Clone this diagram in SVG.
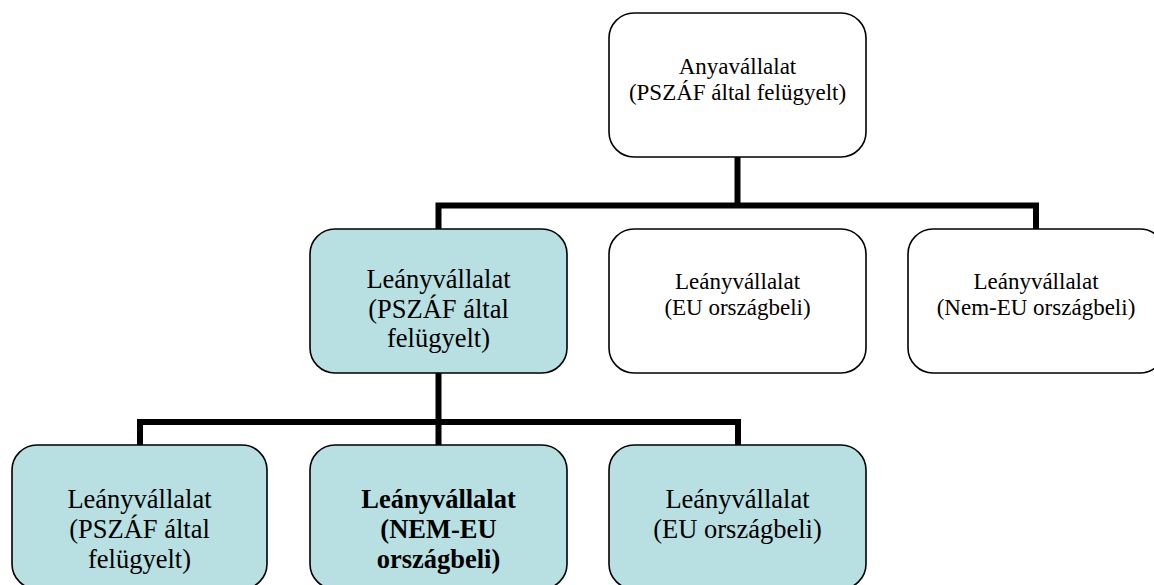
<svg xmlns="http://www.w3.org/2000/svg" width="1154" height="585" viewBox="0 0 1154 585">
<style>
.box{stroke:#000;stroke-width:1.6}
.w{fill:#fff}
.b{fill:#B8DFE2}
.conn{fill:none;stroke:#000;stroke-width:6;stroke-linejoin:miter;stroke-linecap:butt}
text{font-family:"Liberation Serif","Times New Roman",serif;fill:#000;text-anchor:middle}
.s{font-size:23px}
.l{font-size:26.5px}
.bold{font-weight:bold}
</style>
<rect width="1154" height="585" fill="#fff"/>
<g id="connectors">
<path class="conn" d="M737.5 157 V205.5"/>
<path class="conn" d="M438.5 229 V205.5 H1036 V229"/>
<path class="conn" d="M438.5 373 V422"/>
<path class="conn" d="M140 445 V422 H738 V445"/>
<path class="conn" d="M438.5 422 V445"/>
</g>
<g id="parent">
<rect class="box w" x="609" y="13" width="257" height="144" rx="25"/>
<text class="s" x="737.5" y="74">Anyavállalat</text>
<text class="s" x="737.5" y="100">(PSZÁF által felügyelt)</text>
</g>
<g id="sub-pszaf">
<rect class="box b" x="310" y="229" width="257" height="144" rx="25"/>
<text class="l" x="438.5" y="288">Leányvállalat</text>
<text class="l" x="438.5" y="318">(PSZÁF által</text>
<text class="l" x="438.5" y="347">felügyelt)</text>
</g>
<g id="sub-eu">
<rect class="box w" x="609" y="229" width="257" height="144" rx="25"/>
<text class="s" x="737.5" y="289">Leányvállalat</text>
<text class="s" x="737.5" y="315">(EU országbeli)</text>
</g>
<g id="sub-nemeu">
<rect class="box w" x="908" y="229" width="257" height="144" rx="25"/>
<text class="s" x="1036" y="289">Leányvállalat</text>
<text class="s" x="1036" y="315">(Nem-EU országbeli)</text>
</g>
<g id="subsub-pszaf">
<rect class="box b" x="12" y="445" width="255" height="144" rx="25"/>
<text class="l" x="139.5" y="508">Leányvállalat</text>
<text class="l" x="139.5" y="538">(PSZÁF által</text>
<text class="l" x="139.5" y="568">felügyelt)</text>
</g>
<g id="subsub-nemeu">
<rect class="box b" x="310" y="445" width="257" height="144" rx="25"/>
<text class="l bold" x="438.5" y="508">Leányvállalat</text>
<text class="l bold" x="438.5" y="538">(NEM-EU</text>
<text class="l bold" x="438.5" y="568">országbeli)</text>
</g>
<g id="subsub-eu">
<rect class="box b" x="609" y="445" width="257" height="144" rx="25"/>
<text class="l" x="737.5" y="508">Leányvállalat</text>
<text class="l" x="737.5" y="538">(EU országbeli)</text>
</g>
</svg>
